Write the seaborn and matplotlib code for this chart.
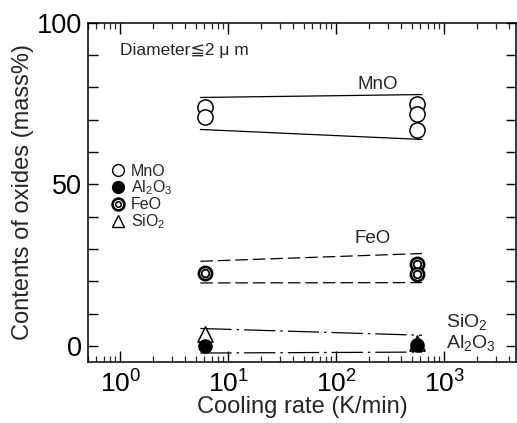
import pandas as pd
import seaborn as sns
import matplotlib.pyplot as plt
from matplotlib.lines import Line2D
from matplotlib.ticker import LogLocator, FixedLocator, FixedFormatter, NullFormatter

# Cooling rates of the two sample groups (K/min)
RATE_SLOW = 6.1
RATE_FAST = 560
BAND_X = [5.5, 620]

# Measured oxide contents (mass%) for inclusions with diameter <= 2 um
MNO_SLOW = [73.8, 70.9]
MNO_FAST = [75.0, 71.9, 66.8]
FEO_SLOW = [22.6]
FEO_FAST = [25.5, 22.2]
AL2O3_SLOW = [0.0]
AL2O3_FAST = [0.3]
SIO2_SLOW = [3.6]
SIO2_FAST = [1.0]

# Hand-drawn scatter bands (value at slow end, value at fast end)
MNO_UPPER = [76.9, 77.8]
MNO_LOWER = [67.0, 63.9]
FEO_UPPER = [26.2, 28.6]
FEO_LOWER = [19.5, 19.6]
OXIDE_UPPER = [5.4, 3.3]
OXIDE_LOWER = [-2.2, -1.9]

YTICKS = list(range(0, 101, 10))
YTICK_LABELS = ["0", "", "", "", "", "50", "", "", "", "", "100"]


def to_frame(oxide, slow, fast):
    rows = [(oxide, RATE_SLOW, v) for v in slow] + [(oxide, RATE_FAST, v) for v in fast]
    return pd.DataFrame(rows, columns=["oxide", "rate", "content"])


def main():
    sns.set_theme(style="ticks")
    plt.rcParams["font.family"] = ["Liberation Sans", "DejaVu Sans"]
    plt.rcParams["mathtext.fontset"] = "custom"
    plt.rcParams["mathtext.rm"] = "Liberation Sans"
    plt.rcParams["mathtext.it"] = "Liberation Sans:italic"
    plt.rcParams["mathtext.bf"] = "Liberation Sans:bold"

    fig = plt.figure(figsize=(5.17, 4.23), dpi=100)
    ax = fig.add_axes([0.170, 0.144, 0.828, 0.802])

    # bands
    for upper, lower, ls in [
        (MNO_UPPER, MNO_LOWER, "-"),
        (FEO_UPPER, FEO_LOWER, (0, (10, 4))),
        (OXIDE_UPPER, OXIDE_LOWER, (0, (25, 4, 2, 4))),
    ]:
        for ys in (upper, lower):
            sns.lineplot(x=BAND_X, y=ys, ax=ax, color="black", lw=0.9,
                         linestyle=ls, estimator=None, legend=False)

    mno = to_frame("MnO", MNO_SLOW, MNO_FAST)
    feo = to_frame("FeO", FEO_SLOW, FEO_FAST)
    al2o3 = to_frame("Al2O3", AL2O3_SLOW, AL2O3_FAST)
    sio2 = to_frame("SiO2", SIO2_SLOW, SIO2_FAST)

    sns.scatterplot(data=sio2, x="rate", y="content", ax=ax, marker="^", s=120,
                    color="white", edgecolor="black", linewidth=1.1, legend=False, zorder=3)
    sns.scatterplot(data=al2o3, x="rate", y="content", ax=ax, marker="o", s=90,
                    color="black", edgecolor="black", linewidth=1.0, legend=False, zorder=4)
    sns.scatterplot(data=mno, x="rate", y="content", ax=ax, marker="o", s=120,
                    color="white", edgecolor="black", linewidth=1.1, legend=False, zorder=3)
    # FeO: double circle
    sns.scatterplot(data=feo, x="rate", y="content", ax=ax, marker="o", s=90,
                    color="white", edgecolor="black", linewidth=1.9, legend=False, zorder=3)
    sns.scatterplot(data=feo, x="rate", y="content", ax=ax, marker="o", s=30,
                    color="white", edgecolor="black", linewidth=1.3, legend=False, zorder=4)

    ax.set_xscale("log")
    ax.set_xlim(0.5, 4600)
    ax.set_ylim(-5, 100)

    ax.xaxis.set_major_locator(LogLocator(base=10, numticks=10))
    ax.xaxis.set_minor_locator(LogLocator(base=10, subs=range(2, 10), numticks=20))
    ax.xaxis.set_minor_formatter(NullFormatter())
    ax.yaxis.set_major_locator(FixedLocator(YTICKS))
    ax.yaxis.set_major_formatter(FixedFormatter(YTICK_LABELS))

    ax.tick_params(axis="x", which="major", direction="in", top=True, bottom=True,
                   length=8, width=1.0, labelsize=19, pad=6, colors="black")
    ax.tick_params(axis="x", which="minor", direction="in", top=True, bottom=True,
                   length=4, width=0.9)
    ax.tick_params(axis="y", which="major", direction="in", left=True, right=True,
                   length=7, width=1.0, labelsize=19.5, pad=4, colors="black")
    for s in ax.spines.values():
        s.set_linewidth(1.1)
        s.set_color("black")

    ax.set_xlabel("Cooling rate (K/min)", fontsize=17, labelpad=-1)
    ax.set_ylabel("Contents of oxides (mass%)", fontsize=17, labelpad=2)

    ax.text(1.0, 91.5, "Diameter≦2 μ m", fontsize=12.5, va="center", ha="left")
    ax.text(242, 78.3, "MnO", fontsize=13.5, ha="center", va="bottom")
    ax.text(217, 30.7, "FeO", fontsize=13.5, ha="center", va="bottom")
    ax.text(1046, 5.9, "SiO$_2$", fontsize=14, ha="left", va="baseline")
    ax.text(1046, -0.7, "Al$_2$O$_3$", fontsize=14, ha="left", va="baseline")

    handles = [
        Line2D([], [], ls="none", marker="o", ms=8.5, mfc="white", mec="black", mew=1.0),
        Line2D([], [], ls="none", marker="o", ms=8.5, mfc="black", mec="black", mew=1.0),
        (Line2D([], [], ls="none", marker="o", ms=8.5, mfc="white", mec="black", mew=1.9),
         Line2D([], [], ls="none", marker="o", ms=4, mfc="white", mec="black", mew=1.1)),
        Line2D([], [], ls="none", marker="^", ms=8.5, mfc="white", mec="black", mew=1.0),
    ]
    labels = ["MnO", "Al$_2$O$_3$", "FeO", "SiO$_2$"]
    ax.legend(handles, labels, loc="upper left", bbox_to_anchor=(0.052, 0.585),
              frameon=False, fontsize=11.5, handlelength=1.0, handletextpad=0.3,
              labelspacing=0.0, borderpad=0, borderaxespad=0)

    fig.savefig("out.png", dpi=100)


if __name__ == "__main__":
    main()
